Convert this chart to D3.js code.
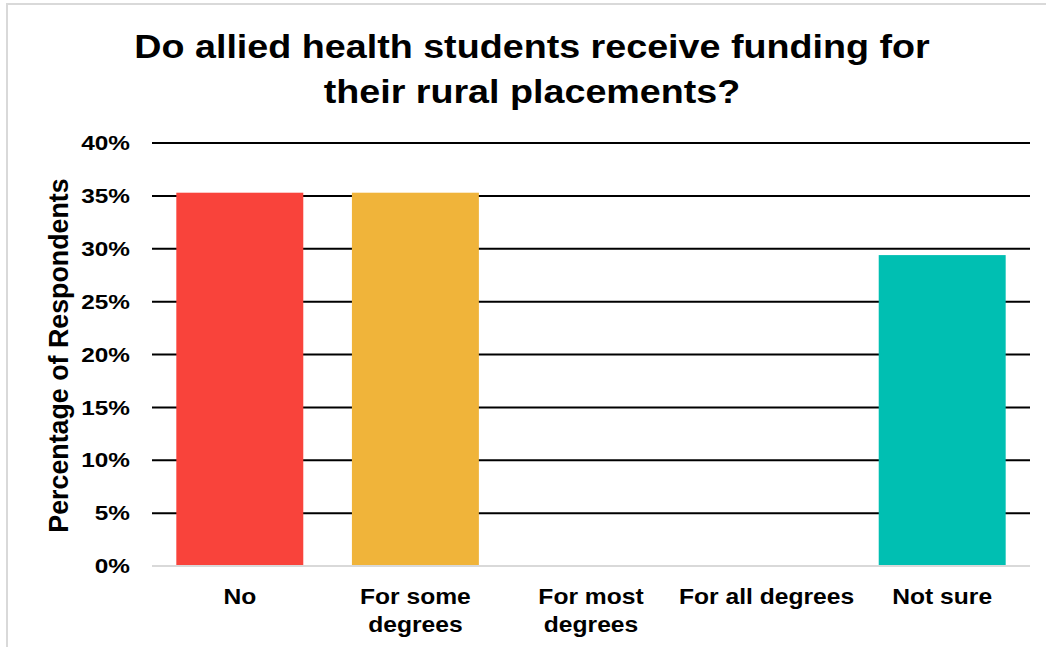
<!DOCTYPE html>
<html>
<head>
<meta charset="utf-8">
<script src="https://cdn.jsdelivr.net/npm/d3@7"></script>
<style>
  html, body { margin: 0; padding: 0; background: #fff; }
  svg { display: block; font-family: "Liberation Sans", Arial, sans-serif; }
</style>
</head>
<body>
<svg id="chart" width="1046" height="647"></svg>
<script>
// Survey responses: share of respondents per answer
const categories = ["No", "For some degrees", "For most degrees", "For all degrees", "Not sure"];
const categoryLines = [["No"], ["For some", "degrees"], ["For most", "degrees"], ["For all degrees"], ["Not sure"]];
const values = [0.353, 0.353, 0, 0, 0.294];
const barColors = ["#F9433B", "#F0B43A", "#7E7E7E", "#3A6FB0", "#00BFB2"];
const yTicks = [0, 0.05, 0.10, 0.15, 0.20, 0.25, 0.30, 0.35, 0.40];
const titleLines = ["Do allied health students receive funding for", "their rural placements?"];
const yTitle = "Percentage of Respondents";

const svg = d3.select("#chart");
const W = 1046, H = 647;
const m = { left: 152, right: 16, top: 143, bottom: 81 };

// outer frame
svg.append("rect")
  .attr("x", 7).attr("y", 4)
  .attr("width", W + 20).attr("height", H + 20)
  .attr("fill", "#fff").attr("stroke", "#d9d9d9").attr("stroke-width", 2);

const x = d3.scaleBand()
  .domain(categories)
  .range([m.left, W - m.right])
  .paddingInner(0.277)
  .paddingOuter(0.1385);

const y = d3.scaleLinear()
  .domain([0, 0.40])
  .range([H - m.bottom, m.top]);

// horizontal gridlines
svg.append("g")
  .selectAll("line")
  .data(yTicks.filter(d => d > 0))
  .join("line")
  .attr("x1", m.left).attr("x2", W - m.right)
  .attr("y1", d => y(d)).attr("y2", d => y(d))
  .attr("stroke", "#000").attr("stroke-width", 2);

// bars
svg.append("g")
  .selectAll("rect")
  .data(values)
  .join("rect")
  .attr("x", (d, i) => x(categories[i]))
  .attr("y", d => y(d))
  .attr("width", x.bandwidth())
  .attr("height", d => y(0) - y(d))
  .attr("fill", (d, i) => barColors[i]);

// baseline
svg.append("line")
  .attr("x1", m.left).attr("x2", W - m.right)
  .attr("y1", y(0)).attr("y2", y(0))
  .attr("stroke", "#d9d9d9").attr("stroke-width", 2);

// y axis labels (slightly widened glyphs)
const fmt = d3.format(".0%");
svg.append("g")
  .selectAll("text")
  .data(yTicks)
  .join("text")
  .attr("transform", d => `translate(130,${y(d)}) scale(1.23,1)`)
  .attr("text-anchor", "end")
  .attr("dy", "0.36em")
  .style("font-size", "19.8px")
  .style("font-weight", "bold")
  .text(d => fmt(d));

// x axis labels
const gx = svg.append("g");
categories.forEach((c, i) => {
  const cx = x(c) + x.bandwidth() / 2;
  const t = gx.append("text")
    .attr("transform", `translate(${cx},${H - m.bottom + 38}) scale(1.14,1)`)
    .attr("text-anchor", "middle")
    .style("font-size", "21.6px")
    .style("font-weight", "bold");
  categoryLines[i].forEach((ln, j) => {
    t.append("tspan")
      .attr("x", 0)
      .attr("dy", j === 0 ? 0 : 28.5)
      .text(ln);
  });
});

// y axis title
svg.append("text")
  .attr("transform", `translate(68,${(y(0) + y(0.40)) / 2 + 1}) rotate(-90)`)
  .attr("text-anchor", "middle")
  .style("font-size", "26.8px")
  .style("font-weight", "bold")
  .text(yTitle);

// chart title
const title = svg.append("g");
titleLines.forEach((ln, j) => {
  title.append("text")
    .attr("transform", `translate(532,${58 + j * 45}) scale(1.125,1)`)
    .attr("text-anchor", "middle")
    .style("font-size", "33.5px")
    .style("font-weight", "bold")
    .text(ln);
});
</script>
</body>
</html>
